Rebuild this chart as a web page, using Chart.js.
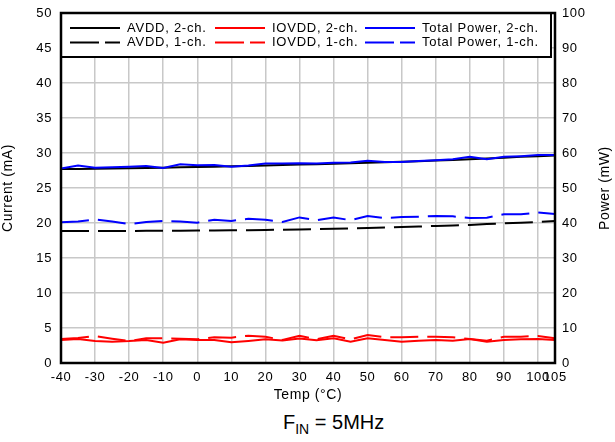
<!DOCTYPE html>
<html>
<head>
<meta charset="utf-8">
<script src="https://cdn.jsdelivr.net/npm/chart.js@4"></script>
<style>
  body { margin: 0; background: #fff; }
  #wrap { position: relative; width: 615px; height: 442px; }
  #sub { position: absolute; left: 283px; top: 411px; white-space: nowrap;
         font-family: Arial, "Liberation Sans", sans-serif; font-size: 20px; color: #000; }
  #sub sub { font-size: 14px; vertical-align: -5px; }
</style>
</head>
<body>
<div id="wrap">
  <canvas id="myChart" width="615" height="405"></canvas>
  <div id="sub">F<sub>IN</sub> = 5MHz</div>
</div>
<script>
const temps = [-40, -35, -30, -25, -20, -15, -10, -5, 0, 5, 10, 15, 20, 25, 30, 35, 40, 45, 50, 55, 60, 65, 70, 75, 80, 85, 90, 95, 100, 105];
const xTicks = [-40, -30, -20, -10, 0, 10, 20, 30, 40, 50, 60, 70, 80, 90, 100, 105];

// currents in mA (left axis)
const avdd2 = [27.7, 27.72, 27.75, 27.78, 27.82, 27.86, 27.9, 27.95, 28.0, 28.05, 28.1, 28.15, 28.2, 28.27, 28.35, 28.4, 28.46, 28.52, 28.6, 28.68, 28.75, 28.83, 28.92, 29.0, 29.1, 29.2, 29.32, 29.45, 29.55, 29.65];
const avdd1 = [18.85, 18.85, 18.85, 18.86, 18.87, 18.88, 18.89, 18.9, 18.92, 18.94, 18.96, 18.98, 19.0, 19.04, 19.08, 19.13, 19.18, 19.24, 19.3, 19.36, 19.43, 19.5, 19.58, 19.65, 19.72, 19.84, 19.95, 20.05, 20.15, 20.28];
const iovdd2 = [3.29, 3.43, 3.14, 3.05, 3.14, 3.29, 2.9, 3.38, 3.29, 3.29, 2.95, 3.14, 3.38, 3.2, 3.5, 3.24, 3.52, 3.05, 3.52, 3.29, 3.05, 3.19, 3.29, 3.19, 3.43, 3.05, 3.29, 3.38, 3.43, 3.29];
const iovdd1 = [3.43, 3.57, 3.86, 3.48, 3.14, 3.52, 3.52, 3.48, 3.38, 3.67, 3.62, 3.9, 3.76, 3.29, 3.9, 3.38, 3.9, 3.38, 4.0, 3.67, 3.67, 3.76, 3.76, 3.67, 3.43, 3.19, 3.76, 3.76, 3.86, 3.52];

// power in mW (right axis)
const power2 = [55.6, 56.4, 55.8, 55.9, 56.1, 56.3, 55.7, 56.8, 56.5, 56.6, 56.1, 56.4, 57.0, 57.0, 57.1, 57.0, 57.2, 57.3, 57.8, 57.4, 57.4, 57.7, 57.9, 58.2, 58.9, 58.2, 58.9, 59.1, 59.4, 59.4];
const power1 = [40.2, 40.4, 41.0, 40.4, 39.7, 40.3, 40.6, 40.4, 40.1, 40.9, 40.6, 41.2, 40.9, 40.3, 41.6, 40.8, 41.6, 40.8, 42.0, 41.4, 41.7, 41.8, 42.0, 41.9, 41.4, 41.5, 42.5, 42.5, 43.0, 42.6];

const FONT = "Arial, 'Liberation Sans', sans-serif";
const DASH = [28, 9];
const pts = (arr) => temps.map((t, i) => ({ x: t, y: arr[i] }));

function line(label, arr, color, dashed, axis, order) {
  return {
    label: label,
    data: pts(arr),
    borderColor: color,
    backgroundColor: color,
    borderWidth: 2,
    borderDash: dashed ? DASH : [],
    pointRadius: 0,
    tension: 0,
    yAxisID: axis,
    order: order,
  };
}

// fixed-size axes, no extra room for the end labels
const fitY = (w) => (s) => {
  s.width = w;
  s.paddingTop = 0;
  s.paddingBottom = 0;
};

// the original text is a bit spread out
const spacing = {
  id: "spacing",
  beforeDraw(chart) {
    chart.ctx.letterSpacing = "0.6px";
  },
};

// legend drawn as a boxed 3x2 grid like the original
const boxLegend = {
  id: "boxLegend",
  afterDraw(chart) {
    const c = chart.ctx;
    const a = chart.chartArea;
    c.save();
    c.fillStyle = "#fff";
    c.fillRect(a.left, a.top, 490, 44);
    c.strokeStyle = "#000";
    c.lineWidth = 2;
    c.strokeRect(a.left, a.top, 490, 44);
    const cols = [70, 215, 365];
    const rows = [a.top + 15, a.top + 29.5];
    chart.data.datasets.forEach((ds, i) => {
      const cx = cols[i % 3];
      const cy = rows[Math.floor(i / 3)];
      c.beginPath();
      c.strokeStyle = ds.borderColor;
      c.lineWidth = 2;
      c.setLineDash(ds.borderDash.length ? [29, 6] : []);
      c.moveTo(cx, cy);
      c.lineTo(cx + 50, cy);
      c.stroke();
      c.setLineDash([]);
      c.fillStyle = "#000";
      c.font = "13px " + FONT;
      c.letterSpacing = "0.75px";
      c.textBaseline = "middle";
      c.fillText(ds.label, cx + 57, cy);
    });
    // full frame round the plot
    c.strokeStyle = "#000";
    c.lineWidth = 2.5;
    c.strokeRect(a.left, a.top, a.right - a.left, a.bottom - a.top);
    // right axis title, reading bottom to top
    c.translate(605, (a.top + a.bottom) / 2);
    c.rotate(-Math.PI / 2);
    c.font = "14px " + FONT;
    c.letterSpacing = "0.6px";
    c.textAlign = "center";
    c.textBaseline = "middle";
    c.fillText("Power (mW)", 0, 0);
    c.restore();
  },
};

const ctx = document.getElementById("myChart");

new Chart(ctx, {
  type: "line",
  data: {
    datasets: [
      line("AVDD, 2-ch.", avdd2, "#000000", false, "y", 2),
      line("IOVDD, 2-ch.", iovdd2, "#ff0000", false, "y", 1),
      line("Total Power, 2-ch.", power2, "#0000ff", false, "y2", 0),
      line("AVDD, 1-ch.", avdd1, "#000000", true, "y", 2),
      line("IOVDD, 1-ch.", iovdd1, "#ff0000", true, "y", 1),
      line("Total Power, 1-ch.", power1, "#0000ff", true, "y2", 0),
    ],
  },
  options: {
    responsive: false,
    animation: false,
    layout: { padding: { top: 13, left: 0, right: 0, bottom: 0 } },
    plugins: {
      legend: { display: false },
      tooltip: { enabled: false },
    },
    scales: {
      x: {
        type: "linear",
        min: -40,
        max: 105,
        afterBuildTicks: (s) => { s.ticks = xTicks.map((v) => ({ value: v })); },
        afterFit: (s) => { s.height = 42; s.paddingLeft = 0; s.paddingRight = 0; },
        ticks: {
          autoSkip: false,
          maxRotation: 0,
          padding: 7,
          color: "#000",
          font: { family: FONT, size: 13 },
        },
        grid: { color: "#c8c8c8", lineWidth: 1.5, drawTicks: false },
        border: { display: false },
        title: {
          display: true,
          text: "Temp (°C)",
          color: "#000",
          font: { family: FONT, size: 14 },
          padding: { top: 0, bottom: 1 },
        },
      },
      y: {
        position: "left",
        min: 0,
        max: 50,
        afterFit: fitY(61),
        ticks: {
          stepSize: 5,
          padding: 9,
          color: "#000",
          font: { family: FONT, size: 13 },
        },
        grid: { color: "#c8c8c8", lineWidth: 1.5, drawTicks: false },
        border: { display: false },
        title: {
          display: true,
          text: "Current (mA)",
          color: "#000",
          font: { family: FONT, size: 14 },
          padding: { top: 0, bottom: 0 },
        },
      },
      y2: {
        position: "right",
        min: 0,
        max: 100,
        afterFit: fitY(60),
        ticks: {
          stepSize: 10,
          padding: 7,
          color: "#000",
          font: { family: FONT, size: 13 },
        },
        grid: { drawOnChartArea: false, drawTicks: false },
        border: { display: false },
      },
    },
  },
  plugins: [spacing, boxLegend],
});
</script>
</body>
</html>
